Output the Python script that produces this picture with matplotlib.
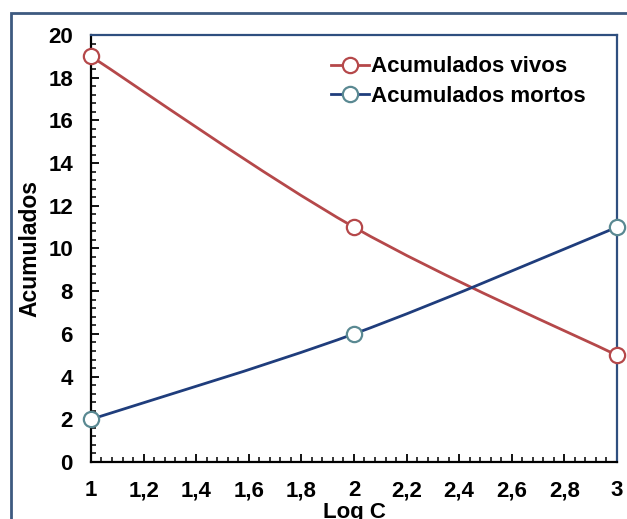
import numpy as np
import matplotlib.pyplot as plt
from matplotlib.path import Path
from matplotlib.patches import PathPatch, Rectangle
from matplotlib.ticker import MultipleLocator, FuncFormatter

# datos
log_c = [1, 2, 3]
vivos = [19, 11, 5]
mortos = [2, 6, 11]

plt.rcParams['font.family'] = ['Liberation Sans', 'DejaVu Sans']
plt.rcParams['font.weight'] = 'bold'

fig = plt.figure(figsize=(6.27, 5.19), dpi=100)
ax = fig.add_axes([0.1451, 0.1098, 0.8389, 0.8228])

# marco exterior
fig.patches.append(Rectangle((0.0175, -0.05), 1.2, 1.025, transform=fig.transFigure,
                             fill=False, edgecolor='#3d5a80', linewidth=2))


def smooth_path(xs, ys):
    # curva suave tipo Excel (Bezier cubica)
    pts = np.column_stack([xs, ys]).astype(float)
    n = len(pts)
    verts = [pts[0]]
    codes = [Path.MOVETO]
    for i in range(n - 1):
        p0 = pts[i - 1] if i > 0 else pts[i]
        p1 = pts[i]
        p2 = pts[i + 1]
        p3 = pts[i + 2] if i + 2 < n else pts[i + 1]
        c1 = p1 + (p2 - p0) / 6
        c2 = p2 - (p3 - p1) / 6
        verts += [c1, c2, p2]
        codes += [Path.CURVE4] * 3
    return Path(verts, codes)


series = [
    (vivos, 'Acumulados vivos', '#b5484a', '#b5484a'),
    (mortos, 'Acumulados mortos', '#1f3d7c', '#5a8992'),
]
for ys, label, lc, mc in series:
    ax.add_patch(PathPatch(smooth_path(log_c, ys), fill=False, edgecolor=lc,
                           linewidth=2.0, zorder=3))
    ax.plot(log_c, ys, linestyle='none', marker='o', markersize=11,
            markerfacecolor='white', markeredgecolor=mc, markeredgewidth=1.6,
            zorder=4, clip_on=False)
    ax.plot([], [], color=lc, linewidth=2.0, marker='o', markersize=11,
            markerfacecolor='white', markeredgecolor=mc, markeredgewidth=1.6,
            label=label)

ax.set_xlim(1, 3)
ax.set_ylim(0, 20)
ax.xaxis.set_major_locator(MultipleLocator(0.2))
ax.xaxis.set_minor_locator(MultipleLocator(0.04))
ax.yaxis.set_major_locator(MultipleLocator(2))
ax.yaxis.set_minor_locator(MultipleLocator(0.4))
ax.xaxis.set_major_formatter(FuncFormatter(lambda v, p: f"{v:g}".replace('.', ',')))

ax.tick_params(which='major', direction='in', length=6, width=1.3, labelsize=16,
               colors='black')
ax.tick_params(which='minor', direction='in', length=3.5, width=1.1)
ax.tick_params(axis='y', which='major', pad=13)
ax.tick_params(axis='x', which='major', pad=13)

for s in ['left', 'bottom']:
    ax.spines[s].set_color('black')
    ax.spines[s].set_linewidth(1.6)
for s in ['top', 'right']:
    ax.spines[s].set_color('#2f4f7f')
    ax.spines[s].set_linewidth(1.6)

ax.set_xlabel('Log C', fontsize=16, fontweight='bold')
ax.xaxis.set_label_coords(0.5, -0.094)
ax.set_ylabel('Acumulados', fontsize=16.5, fontweight='bold')
ax.yaxis.set_label_coords(-0.095, 0.5)

ax.legend(loc='upper left', bbox_to_anchor=(0.456, 0.95), frameon=False,
          prop={'size': 16, 'weight': 'bold'}, handlelength=1.7,
          handletextpad=0.1, labelspacing=0.4, borderpad=0, borderaxespad=0)

fig.savefig('out.png', dpi=100)
